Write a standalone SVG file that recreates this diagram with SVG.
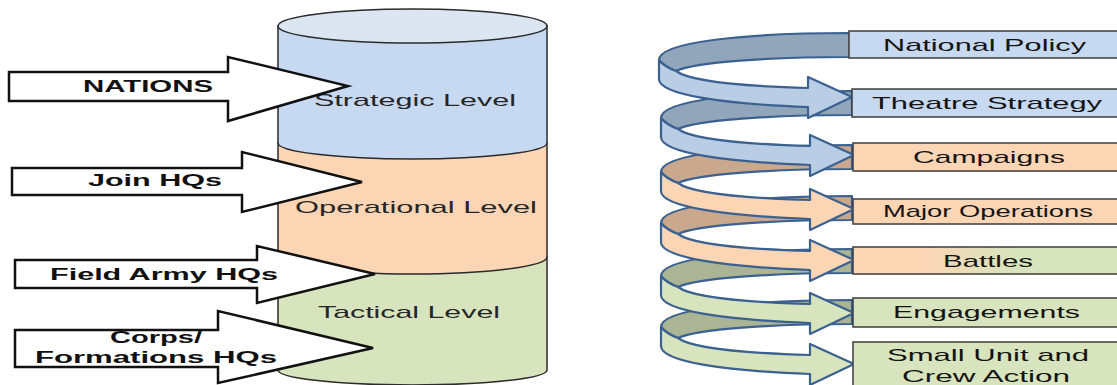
<svg xmlns="http://www.w3.org/2000/svg" width="1117" height="385" viewBox="0 0 1117 385">
  <defs>
    <style>
      .cyl { stroke: #2b2b2b; stroke-width: 1.5; }
      .blk { fill: #ffffff; stroke: #111111; stroke-width: 2.5; stroke-linejoin: miter; }
      .blbl { font-family: "Liberation Sans", Arial, sans-serif; font-weight: bold; font-size: 16px; fill: #111111; }
      .lvl { font-family: "Liberation Sans", Arial, sans-serif; font-size: 17px; fill: #262626; }
      .box { stroke: #3c3c3c; stroke-width: 1.5; }
      .btxt { font-family: "Liberation Sans", Arial, sans-serif; font-size: 17px; fill: #141414; }
      .loop { stroke: #3b6190; stroke-width: 2.2; stroke-linejoin: round; }
      .blue-f { fill: #b9cde5; } .blue-b { fill: #92a6bb; }
      .peach-f { fill: #fcd5b5; } .peach-b { fill: #c9a88e; }
      .green-f { fill: #d7e4bd; } .green-b { fill: #abb596; }
    </style>
    <linearGradient id="battleFill" x1="0" y1="0" x2="1" y2="0">
      <stop offset="0" stop-color="#fcd5b5"/>
      <stop offset="0.25" stop-color="#fcd5b5"/>
      <stop offset="0.6" stop-color="#d7e4bd"/>
      <stop offset="1" stop-color="#d7e4bd"/>
    </linearGradient>
    <!-- one turn of the spiral ribbon: back face, then front face with arrowhead -->
    <path id="loopBack" d="M850,33 C745,33 659,42 659,60 C662,64 668,68 676,71 C695,62 770,57 850,57 Z"/>
    <path id="loopFront" d="M659,60 L659,79 C659,95 725,104 808,107 L808,118 L852,97 L808,77 L808,88 C735,86 688,80 676,71 C668,68 662,64 659,60 Z"/>
  </defs>

  <rect width="1117" height="385" fill="#ffffff"/>

  <!-- stacked cylinder of command levels -->
  <g id="cylinder">
    <g id="tactical-level">
      <path class="cyl" fill="#d7e4bd" d="M278,257 L278,370 A134.5,15 0 0 0 547,370 L547,257 Z"/>
      <text class="lvl" x="318" y="318" textLength="182" lengthAdjust="spacingAndGlyphs">Tactical Level</text>
    </g>
    <g id="operational-level">
      <path class="cyl" fill="#fcd5b5" d="M278,143 L278,257 A134.5,17 0 0 0 547,257 L547,143 Z"/>
      <text class="lvl" x="295" y="213" textLength="242" lengthAdjust="spacingAndGlyphs">Operational Level</text>
    </g>
    <g id="strategic-level">
      <path class="cyl" fill="#c6d9f1" d="M278,26 L278,143 A134.5,16 0 0 0 547,143 L547,26 Z"/>
      <ellipse class="cyl" fill="#dce6f2" cx="412.5" cy="26" rx="134.5" ry="17"/>
      <text class="lvl" x="314" y="106" textLength="202" lengthAdjust="spacingAndGlyphs">Strategic Level</text>
    </g>
  </g>

  <!-- block arrows naming the headquarters at each level -->
  <g id="arrow-nations">
    <polygon class="blk" points="9,72 228,72 228,57 348,86 228,121 228,101 9,101"/>
    <text class="blbl" x="83" y="92" textLength="130" lengthAdjust="spacingAndGlyphs">NATIONS</text>
  </g>
  <g id="arrow-join-hqs">
    <polygon class="blk" points="12,168 242,168 242,152 362,182 242,212 242,195 12,195"/>
    <text class="blbl" x="88" y="186" textLength="134" lengthAdjust="spacingAndGlyphs">Join HQs</text>
  </g>
  <g id="arrow-field-army">
    <polygon class="blk" points="15,260 257,260 257,246 375,274 257,303 257,288 15,288"/>
    <text class="blbl" x="50" y="280" textLength="228" lengthAdjust="spacingAndGlyphs">Field Army HQs</text>
  </g>
  <g id="arrow-corps">
    <polygon class="blk" points="15,330 218,330 218,311 373,348 218,383 218,367 15,367"/>
    <text class="blbl" x="110" y="343" textLength="92" lengthAdjust="spacingAndGlyphs">Corps/</text>
    <text class="blbl" x="35" y="363" textLength="242" lengthAdjust="spacingAndGlyphs">Formations HQs</text>
  </g>

  <!-- spiral connectors, lowest turn first so each upper arrow lies on the turn below -->
  <g id="connectors">
    <g transform="translate(2,267)">
      <use href="#loopBack" class="loop green-b"/>
      <use href="#loopFront" class="loop green-f"/>
    </g>
    <g transform="translate(2,216)">
      <use href="#loopBack" class="loop green-b"/>
      <use href="#loopFront" class="loop green-f"/>
    </g>
    <g transform="translate(2,163)">
      <use href="#loopBack" class="loop peach-b"/>
      <use href="#loopFront" class="loop peach-f"/>
    </g>
    <g transform="translate(2,112)">
      <use href="#loopBack" class="loop peach-b"/>
      <use href="#loopFront" class="loop peach-f"/>
    </g>
    <g transform="translate(2,58)">
      <use href="#loopBack" class="loop blue-b"/>
      <use href="#loopFront" class="loop blue-f"/>
    </g>
    <g transform="translate(0,0)">
      <use href="#loopBack" class="loop blue-b"/>
      <use href="#loopFront" class="loop blue-f"/>
    </g>
  </g>

  <!-- hierarchy of military activity -->
  <g id="national-policy">
    <rect class="box" fill="#c6d9f1" x="849" y="31" width="275" height="27"/>
    <text class="btxt" x="883" y="51" textLength="203" lengthAdjust="spacingAndGlyphs">National Policy</text>
  </g>
  <g id="theatre-strategy">
    <rect class="box" fill="#c6d9f1" x="852" y="89" width="272" height="28"/>
    <text class="btxt" x="872" y="109" textLength="230" lengthAdjust="spacingAndGlyphs">Theatre Strategy</text>
  </g>
  <g id="campaigns">
    <rect class="box" fill="#fcd5b5" x="853" y="143" width="271" height="28"/>
    <text class="btxt" x="913" y="163" textLength="152" lengthAdjust="spacingAndGlyphs">Campaigns</text>
  </g>
  <g id="major-operations">
    <rect class="box" fill="#fcd5b5" x="853" y="199" width="271" height="25"/>
    <text class="btxt" x="883" y="217" font-size="15.5" textLength="210" lengthAdjust="spacingAndGlyphs">Major Operations</text>
  </g>
  <g id="battles">
    <rect class="box" fill="url(#battleFill)" x="853" y="247" width="271" height="27"/>
    <text class="btxt" x="943" y="267" textLength="90" lengthAdjust="spacingAndGlyphs">Battles</text>
  </g>
  <g id="engagements">
    <rect class="box" fill="#d7e4bd" x="853" y="298" width="271" height="29"/>
    <text class="btxt" x="893" y="318" textLength="187" lengthAdjust="spacingAndGlyphs">Engagements</text>
  </g>
  <g id="small-unit">
    <rect class="box" fill="#d7e4bd" x="853" y="342" width="271" height="55"/>
    <text class="btxt" x="887" y="361" textLength="202" lengthAdjust="spacingAndGlyphs">Small Unit and</text>
    <text class="btxt" x="902" y="382" textLength="168" lengthAdjust="spacingAndGlyphs">Crew Action</text>
  </g>
</svg>
